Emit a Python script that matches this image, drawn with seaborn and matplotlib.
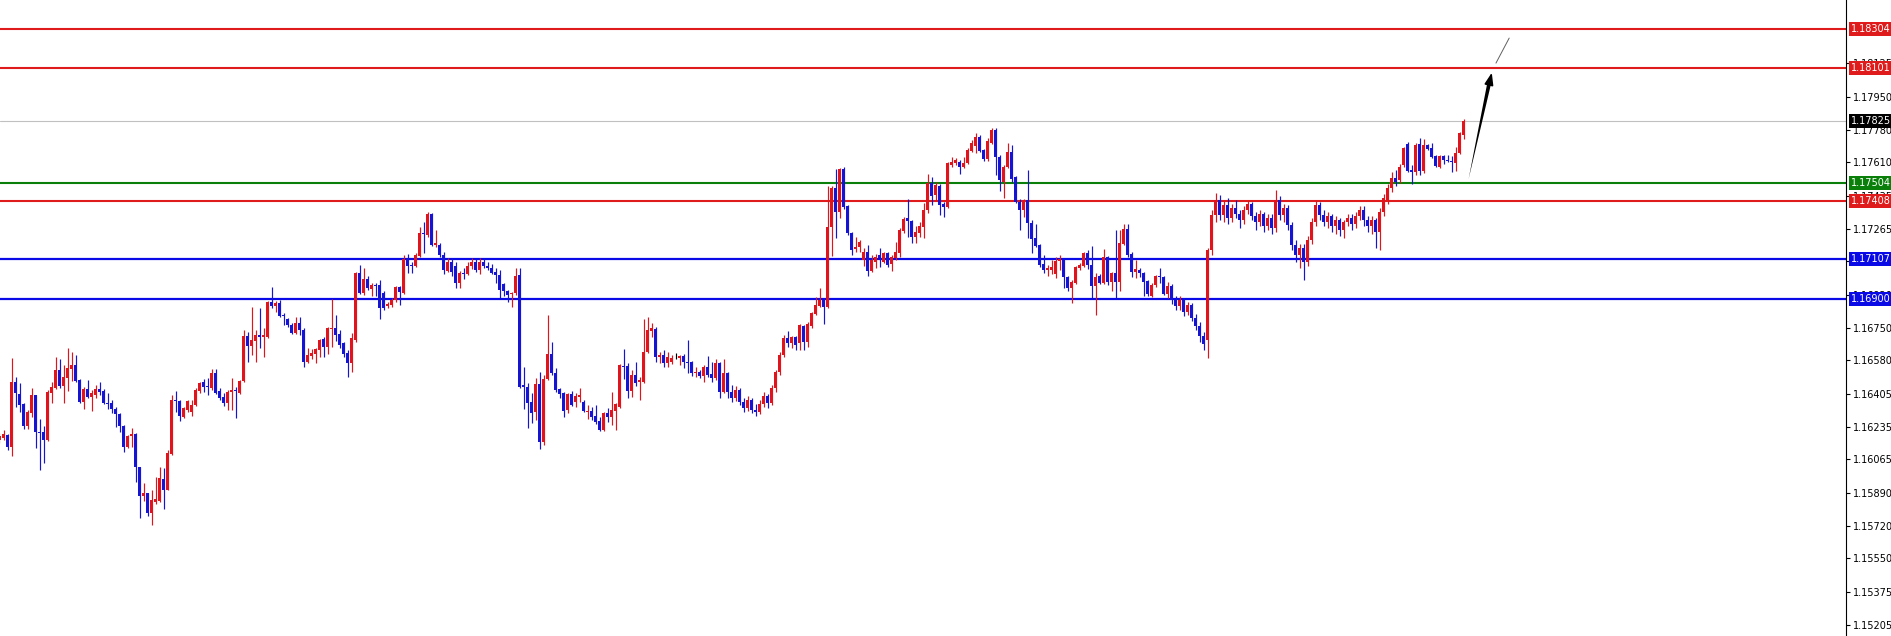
import matplotlib
matplotlib.use("Agg")
import matplotlib.pyplot as plt
import matplotlib.transforms as mtransforms
from matplotlib.patches import FancyArrowPatch
import numpy as np
import pandas as pd
import seaborn as sns

# ceny świec (H1)
open_prices = [
    1.16166, 1.16176, 1.16192, 1.16130, 1.16468, 1.16405, 1.16353, 1.16239, 1.16306, 1.16400,
    1.16208, 1.16208, 1.16166, 1.16410, 1.16436, 1.16530, 1.16447, 1.16488, 1.16535, 1.16556,
    1.16478, 1.16364, 1.16431, 1.16390, 1.16400, 1.16431, 1.16421, 1.16358, 1.16358, 1.16327,
    1.16301, 1.16239, 1.16130, 1.16187, 1.16197, 1.16026, 1.15875, 1.15890, 1.15786, 1.15844,
    1.15849, 1.15963, 1.15906, 1.16093, 1.16374, 1.16369, 1.16286, 1.16322, 1.16312, 1.16348,
    1.16421, 1.16468, 1.16447, 1.16436, 1.16514, 1.16421, 1.16390, 1.16358, 1.16416, 1.16426,
    1.16410, 1.16473, 1.16707, 1.16655, 1.16681, 1.16712, 1.16702, 1.16702, 1.16884, 1.16863,
    1.16878, 1.16816, 1.16795, 1.16764, 1.16722, 1.16774, 1.16738, 1.16572, 1.16603, 1.16613,
    1.16634, 1.16691, 1.16650, 1.16743, 1.16748, 1.16717, 1.16670, 1.16618, 1.16566, 1.16686,
    1.17034, 1.16930, 1.17003, 1.16951, 1.16972, 1.16972, 1.16930, 1.16863, 1.16868, 1.16894,
    1.16962, 1.16930, 1.17107, 1.17076, 1.17071, 1.17123, 1.17242, 1.17232, 1.17341, 1.17180,
    1.17180, 1.17128, 1.17045, 1.17092, 1.17071, 1.16982, 1.17034, 1.17029, 1.17071, 1.17092,
    1.17050, 1.17092, 1.17071, 1.17060, 1.17040, 1.17024, 1.16977, 1.16941, 1.16925, 1.16930,
    1.17024, 1.16452, 1.16442, 1.16364, 1.16312, 1.16457, 1.16156, 1.16483, 1.16613, 1.16514,
    1.16431, 1.16410, 1.16322, 1.16405, 1.16364, 1.16390, 1.16364, 1.16312, 1.16317, 1.16291,
    1.16265, 1.16218, 1.16306, 1.16286, 1.16317, 1.16338, 1.16551, 1.16551, 1.16421, 1.16504,
    1.16468, 1.16468, 1.16624, 1.16733, 1.16743, 1.16598, 1.16608, 1.16566, 1.16572, 1.16592,
    1.16592, 1.16603, 1.16572, 1.16572, 1.16514, 1.16520, 1.16499, 1.16546, 1.16509, 1.16488,
    1.16566, 1.16416, 1.16514, 1.16416, 1.16384, 1.16426, 1.16364, 1.16332, 1.16374, 1.16322,
    1.16312, 1.16353, 1.16395, 1.16358, 1.16436, 1.16520, 1.16608, 1.16696, 1.16670, 1.16702,
    1.16670, 1.16759, 1.16676, 1.16759, 1.16821, 1.16863, 1.16894, 1.16858, 1.17274, 1.17476,
    1.17352, 1.17575, 1.17383, 1.17242, 1.17159, 1.17170, 1.17102, 1.17144, 1.17045, 1.17092,
    1.17128, 1.17092, 1.17138, 1.17081, 1.17112, 1.17138, 1.17252, 1.17320, 1.17305, 1.17222,
    1.17242, 1.17274, 1.17362, 1.17502, 1.17440, 1.17487, 1.17393, 1.17378, 1.17596, 1.17606,
    1.17612, 1.17586, 1.17606, 1.17669, 1.17695, 1.17742, 1.17674, 1.17627, 1.17710, 1.17778,
    1.17638, 1.17508, 1.17586, 1.17664, 1.17534, 1.17404, 1.17362, 1.17414, 1.17294, 1.17216,
    1.17180, 1.17081, 1.17050, 1.17050, 1.17029, 1.17097, 1.17102, 1.17014, 1.16956, 1.16982,
    1.17060, 1.17071, 1.17138, 1.17076, 1.16967, 1.17019, 1.16982, 1.17118, 1.16988, 1.17034,
    1.16988, 1.17185, 1.17263, 1.17133, 1.17040, 1.17050, 1.17034, 1.16993, 1.16915, 1.16972,
    1.17019, 1.17014, 1.16925, 1.16967, 1.16894, 1.16863, 1.16894, 1.16832, 1.16868, 1.16800,
    1.16759, 1.16707, 1.16686, 1.17154, 1.17336, 1.17414, 1.17336, 1.17388, 1.17320, 1.17372,
    1.17341, 1.17310, 1.17362, 1.17393, 1.17331, 1.17300, 1.17341, 1.17279, 1.17320, 1.17268,
    1.17414, 1.17336, 1.17372, 1.17284, 1.17180, 1.17128, 1.17164, 1.17092, 1.17206, 1.17300,
    1.17388, 1.17336, 1.17300, 1.17331, 1.17279, 1.17310, 1.17258, 1.17300, 1.17320, 1.17289,
    1.17331, 1.17362, 1.17310, 1.17279, 1.17310, 1.17248, 1.17352, 1.17414, 1.17476, 1.17528,
    1.17518, 1.17596, 1.17705, 1.17570, 1.17560, 1.17705, 1.17565, 1.17700, 1.17684, 1.17643,
    1.17586, 1.17643, 1.17622, 1.17617, 1.17606, 1.17658, 1.17752,
]
high_prices = [
    1.16202, 1.16218, 1.16197, 1.16592, 1.16494, 1.16462, 1.16358, 1.16322, 1.16436, 1.16400,
    1.16275, 1.16239, 1.16426, 1.16468, 1.16598, 1.16587, 1.16556, 1.16644, 1.16624, 1.16608,
    1.16483, 1.16442, 1.16478, 1.16426, 1.16452, 1.16468, 1.16431, 1.16410, 1.16374, 1.16338,
    1.16306, 1.16244, 1.16192, 1.16228, 1.16202, 1.16026, 1.15942, 1.15890, 1.15906, 1.15974,
    1.16026, 1.16020, 1.16114, 1.16400, 1.16421, 1.16374, 1.16338, 1.16374, 1.16374, 1.16436,
    1.16468, 1.16483, 1.16488, 1.16535, 1.16535, 1.16436, 1.16410, 1.16426, 1.16488, 1.16442,
    1.16478, 1.16738, 1.16728, 1.16858, 1.16738, 1.16853, 1.16748, 1.16889, 1.16962, 1.16889,
    1.16894, 1.16826, 1.16800, 1.16774, 1.16806, 1.16806, 1.16748, 1.16644, 1.16639, 1.16644,
    1.16691, 1.16702, 1.16754, 1.16899, 1.16816, 1.16738, 1.16676, 1.16634, 1.16722, 1.17040,
    1.17076, 1.17060, 1.17019, 1.16982, 1.16982, 1.16998, 1.16941, 1.16884, 1.16904, 1.16967,
    1.16967, 1.17128, 1.17133, 1.17092, 1.17138, 1.17274, 1.17300, 1.17352, 1.17346, 1.17258,
    1.17190, 1.17144, 1.17112, 1.17112, 1.17092, 1.17045, 1.17060, 1.17092, 1.17112, 1.17107,
    1.17112, 1.17112, 1.17092, 1.17081, 1.17060, 1.17050, 1.16982, 1.16946, 1.16936, 1.17060,
    1.17060, 1.16546, 1.16462, 1.16410, 1.16488, 1.16520, 1.16504, 1.16816, 1.16676, 1.16540,
    1.16436, 1.16416, 1.16410, 1.16421, 1.16410, 1.16436, 1.16374, 1.16348, 1.16338, 1.16348,
    1.16286, 1.16312, 1.16332, 1.16416, 1.16358, 1.16561, 1.16639, 1.16566, 1.16530, 1.16572,
    1.16494, 1.16795, 1.16806, 1.16774, 1.16754, 1.16624, 1.16634, 1.16624, 1.16608, 1.16618,
    1.16608, 1.16613, 1.16686, 1.16577, 1.16546, 1.16530, 1.16556, 1.16603, 1.16572, 1.16587,
    1.16572, 1.16587, 1.16520, 1.16452, 1.16447, 1.16436, 1.16384, 1.16395, 1.16384, 1.16353,
    1.16374, 1.16416, 1.16405, 1.16452, 1.16530, 1.16624, 1.16712, 1.16733, 1.16707, 1.16707,
    1.16769, 1.16764, 1.16780, 1.16832, 1.16910, 1.16956, 1.16904, 1.17487, 1.17487, 1.17575,
    1.17580, 1.17586, 1.17388, 1.17248, 1.17222, 1.17206, 1.17164, 1.17180, 1.17128, 1.17133,
    1.17164, 1.17144, 1.17144, 1.17128, 1.17196, 1.17268, 1.17326, 1.17419, 1.17310, 1.17279,
    1.17300, 1.17398, 1.17549, 1.17534, 1.17508, 1.17497, 1.17404, 1.17612, 1.17638, 1.17632,
    1.17622, 1.17638, 1.17684, 1.17726, 1.17762, 1.17752, 1.17679, 1.17736, 1.17788, 1.17788,
    1.17648, 1.17596, 1.17710, 1.17700, 1.17539, 1.17419, 1.17419, 1.17570, 1.17310, 1.17289,
    1.17185, 1.17128, 1.17076, 1.17102, 1.17118, 1.17128, 1.17107, 1.17019, 1.16998, 1.17071,
    1.17086, 1.17144, 1.17154, 1.17175, 1.17034, 1.17029, 1.17159, 1.17123, 1.17040, 1.17258,
    1.17258, 1.17289, 1.17289, 1.17144, 1.17102, 1.17060, 1.17040, 1.16998, 1.16982, 1.17024,
    1.17060, 1.17019, 1.16988, 1.16977, 1.16915, 1.16915, 1.16904, 1.16884, 1.16878, 1.16821,
    1.16780, 1.16728, 1.17164, 1.17362, 1.17450, 1.17440, 1.17414, 1.17424, 1.17393, 1.17414,
    1.17362, 1.17383, 1.17414, 1.17404, 1.17352, 1.17362, 1.17352, 1.17341, 1.17341, 1.17466,
    1.17435, 1.17393, 1.17388, 1.17300, 1.17206, 1.17185, 1.17185, 1.17227, 1.17320, 1.17414,
    1.17404, 1.17362, 1.17352, 1.17341, 1.17331, 1.17320, 1.17310, 1.17341, 1.17341, 1.17352,
    1.17383, 1.17383, 1.17331, 1.17331, 1.17320, 1.17372, 1.17445, 1.17497, 1.17560, 1.17570,
    1.17601, 1.17690, 1.17716, 1.17596, 1.17710, 1.17736, 1.17731, 1.17705, 1.17710, 1.17648,
    1.17648, 1.17648, 1.17648, 1.17643, 1.17690, 1.17768, 1.17835,
]
low_prices = [
    1.16150, 1.16166, 1.16114, 1.16083, 1.16338, 1.16312, 1.16223, 1.16223, 1.16286, 1.16124,
    1.16010, 1.16046, 1.16161, 1.16358, 1.16431, 1.16436, 1.16358, 1.16421, 1.16473, 1.16468,
    1.16358, 1.16327, 1.16384, 1.16317, 1.16384, 1.16400, 1.16353, 1.16327, 1.16306, 1.16234,
    1.16208, 1.16104, 1.16124, 1.16130, 1.15948, 1.15760, 1.15849, 1.15771, 1.15724, 1.15833,
    1.15844, 1.15807, 1.15906, 1.16088, 1.16312, 1.16265, 1.16280, 1.16312, 1.16291, 1.16343,
    1.16410, 1.16416, 1.16400, 1.16426, 1.16405, 1.16374, 1.16343, 1.16322, 1.16322, 1.16280,
    1.16405, 1.16468, 1.16572, 1.16608, 1.16572, 1.16644, 1.16598, 1.16696, 1.16853, 1.16832,
    1.16806, 1.16764, 1.16754, 1.16717, 1.16717, 1.16712, 1.16546, 1.16566, 1.16587, 1.16566,
    1.16598, 1.16598, 1.16613, 1.16650, 1.16681, 1.16644, 1.16598, 1.16494, 1.16520, 1.16676,
    1.16925, 1.16920, 1.16946, 1.16915, 1.16915, 1.16795, 1.16842, 1.16853, 1.16858, 1.16884,
    1.16868, 1.16925, 1.17034, 1.17034, 1.17066, 1.17118, 1.17138, 1.17222, 1.17174, 1.17170,
    1.17118, 1.17029, 1.17040, 1.17019, 1.16956, 1.16956, 1.17003, 1.17024, 1.17055, 1.17040,
    1.17029, 1.17060, 1.17050, 1.17029, 1.16982, 1.16904, 1.16915, 1.16884, 1.16858, 1.16920,
    1.16436, 1.16327, 1.16228, 1.16254, 1.16270, 1.16119, 1.16140, 1.16478, 1.16504, 1.16416,
    1.16384, 1.16286, 1.16306, 1.16343, 1.16338, 1.16364, 1.16312, 1.16275, 1.16270, 1.16249,
    1.16213, 1.16213, 1.16260, 1.16244, 1.16218, 1.16332, 1.16483, 1.16384, 1.16390, 1.16447,
    1.16374, 1.16462, 1.16618, 1.16702, 1.16572, 1.16566, 1.16546, 1.16546, 1.16561, 1.16587,
    1.16556, 1.16540, 1.16514, 1.16499, 1.16494, 1.16488, 1.16468, 1.16494, 1.16468, 1.16478,
    1.16384, 1.16410, 1.16384, 1.16364, 1.16369, 1.16348, 1.16312, 1.16317, 1.16306, 1.16291,
    1.16301, 1.16338, 1.16332, 1.16348, 1.16416, 1.16504, 1.16598, 1.16650, 1.16644, 1.16634,
    1.16634, 1.16634, 1.16650, 1.16748, 1.16816, 1.16858, 1.16769, 1.16853, 1.17123, 1.17216,
    1.17321, 1.17367, 1.17232, 1.17128, 1.17144, 1.17144, 1.17071, 1.17019, 1.17040, 1.17060,
    1.17066, 1.17086, 1.17066, 1.17045, 1.17102, 1.17118, 1.17242, 1.17222, 1.17190, 1.17190,
    1.17222, 1.17216, 1.17346, 1.17388, 1.17414, 1.17336, 1.17326, 1.17372, 1.17586, 1.17596,
    1.17549, 1.17580, 1.17601, 1.17664, 1.17658, 1.17664, 1.17617, 1.17617, 1.17705, 1.17544,
    1.17461, 1.17424, 1.17580, 1.17508, 1.17398, 1.17258, 1.17326, 1.17216, 1.17138, 1.17170,
    1.17066, 1.17034, 1.17019, 1.17029, 1.17008, 1.17050, 1.16956, 1.16941, 1.16878, 1.16977,
    1.17050, 1.17066, 1.17055, 1.16904, 1.16816, 1.16977, 1.16977, 1.16972, 1.16941, 1.16904,
    1.16941, 1.17180, 1.17118, 1.17014, 1.17008, 1.17014, 1.16915, 1.16915, 1.16910, 1.16962,
    1.16982, 1.16920, 1.16904, 1.16873, 1.16842, 1.16842, 1.16811, 1.16816, 1.16785, 1.16738,
    1.16676, 1.16634, 1.16592, 1.17128, 1.17300, 1.17310, 1.17300, 1.17289, 1.17300, 1.17320,
    1.17268, 1.17289, 1.17341, 1.17310, 1.17258, 1.17279, 1.17248, 1.17258, 1.17237, 1.17248,
    1.17310, 1.17300, 1.17258, 1.17154, 1.17092, 1.17060, 1.16998, 1.17071, 1.17185, 1.17279,
    1.17310, 1.17279, 1.17268, 1.17248, 1.17237, 1.17227, 1.17216, 1.17279, 1.17258, 1.17268,
    1.17310, 1.17279, 1.17248, 1.17237, 1.17164, 1.17154, 1.17331, 1.17393, 1.17456, 1.17487,
    1.17502, 1.17586, 1.17560, 1.17497, 1.17544, 1.17544, 1.17554, 1.17674, 1.17632, 1.17586,
    1.17580, 1.17601, 1.17612, 1.17560, 1.17565, 1.17653, 1.17731,
]
close_prices = [
    1.16187, 1.16197, 1.16130, 1.16468, 1.16410, 1.16348, 1.16239, 1.16312, 1.16400, 1.16208,
    1.16202, 1.16166, 1.16416, 1.16442, 1.16530, 1.16447, 1.16494, 1.16540, 1.16556, 1.16473,
    1.16364, 1.16431, 1.16390, 1.16410, 1.16431, 1.16416, 1.16358, 1.16353, 1.16327, 1.16301,
    1.16239, 1.16130, 1.16187, 1.16197, 1.16026, 1.15875, 1.15890, 1.15786, 1.15854, 1.15859,
    1.15968, 1.15906, 1.16098, 1.16374, 1.16369, 1.16291, 1.16332, 1.16369, 1.16348, 1.16426,
    1.16462, 1.16442, 1.16442, 1.16514, 1.16410, 1.16384, 1.16358, 1.16416, 1.16426, 1.16421,
    1.16473, 1.16707, 1.16655, 1.16686, 1.16712, 1.16702, 1.16712, 1.16884, 1.16863, 1.16878,
    1.16811, 1.16811, 1.16764, 1.16722, 1.16774, 1.16738, 1.16572, 1.16608, 1.16618, 1.16639,
    1.16686, 1.16650, 1.16748, 1.16748, 1.16712, 1.16660, 1.16613, 1.16566, 1.16696, 1.17034,
    1.16930, 1.17003, 1.16956, 1.16972, 1.16967, 1.16853, 1.16853, 1.16873, 1.16894, 1.16962,
    1.16936, 1.17107, 1.17071, 1.17071, 1.17128, 1.17242, 1.17237, 1.17341, 1.17180, 1.17190,
    1.17128, 1.17050, 1.17092, 1.17040, 1.16982, 1.17034, 1.17029, 1.17071, 1.17092, 1.17050,
    1.17092, 1.17071, 1.17060, 1.17034, 1.17024, 1.16946, 1.16941, 1.16920, 1.16930, 1.17019,
    1.16442, 1.16442, 1.16358, 1.16306, 1.16457, 1.16156, 1.16483, 1.16613, 1.16514, 1.16426,
    1.16405, 1.16317, 1.16405, 1.16348, 1.16395, 1.16400, 1.16317, 1.16317, 1.16286, 1.16260,
    1.16218, 1.16306, 1.16286, 1.16322, 1.16353, 1.16556, 1.16546, 1.16421, 1.16504, 1.16462,
    1.16478, 1.16624, 1.16738, 1.16748, 1.16598, 1.16608, 1.16566, 1.16598, 1.16592, 1.16592,
    1.16603, 1.16572, 1.16566, 1.16514, 1.16520, 1.16499, 1.16546, 1.16504, 1.16488, 1.16566,
    1.16416, 1.16514, 1.16416, 1.16384, 1.16426, 1.16364, 1.16332, 1.16374, 1.16322, 1.16312,
    1.16353, 1.16395, 1.16358, 1.16436, 1.16520, 1.16608, 1.16696, 1.16670, 1.16702, 1.16660,
    1.16764, 1.16676, 1.16769, 1.16826, 1.16868, 1.16894, 1.16858, 1.17274, 1.17476, 1.17352,
    1.17575, 1.17378, 1.17242, 1.17154, 1.17170, 1.17196, 1.17144, 1.17045, 1.17102, 1.17118,
    1.17112, 1.17138, 1.17076, 1.17118, 1.17144, 1.17258, 1.17315, 1.17305, 1.17222, 1.17248,
    1.17279, 1.17362, 1.17502, 1.17435, 1.17492, 1.17388, 1.17378, 1.17606, 1.17612, 1.17622,
    1.17586, 1.17606, 1.17674, 1.17710, 1.17742, 1.17669, 1.17627, 1.17721, 1.17778, 1.17638,
    1.17518, 1.17586, 1.17664, 1.17523, 1.17404, 1.17362, 1.17414, 1.17294, 1.17211, 1.17175,
    1.17076, 1.17050, 1.17060, 1.17066, 1.17097, 1.17107, 1.17014, 1.16956, 1.16988, 1.17066,
    1.17076, 1.17138, 1.17076, 1.16967, 1.17014, 1.16982, 1.17118, 1.16988, 1.17034, 1.16988,
    1.17190, 1.17263, 1.17128, 1.17040, 1.17055, 1.17034, 1.16988, 1.16925, 1.16972, 1.17019,
    1.17014, 1.16925, 1.16967, 1.16894, 1.16863, 1.16894, 1.16832, 1.16868, 1.16800, 1.16759,
    1.16707, 1.16665, 1.17154, 1.17336, 1.17414, 1.17336, 1.17388, 1.17320, 1.17372, 1.17341,
    1.17310, 1.17362, 1.17393, 1.17331, 1.17300, 1.17341, 1.17279, 1.17320, 1.17268, 1.17414,
    1.17336, 1.17372, 1.17284, 1.17180, 1.17128, 1.17164, 1.17092, 1.17206, 1.17300, 1.17388,
    1.17336, 1.17300, 1.17331, 1.17279, 1.17310, 1.17258, 1.17300, 1.17320, 1.17289, 1.17331,
    1.17362, 1.17310, 1.17279, 1.17310, 1.17248, 1.17352, 1.17424, 1.17476, 1.17528, 1.17508,
    1.17586, 1.17684, 1.17565, 1.17560, 1.17700, 1.17565, 1.17700, 1.17679, 1.17638, 1.17591,
    1.17643, 1.17622, 1.17617, 1.17612, 1.17658, 1.17762, 1.17825,
]

# poziomy wsparcia / oporu
red_levels = [1.18304, 1.18101, 1.17408]
green_levels = [1.17504]
blue_levels = [1.17107, 1.16900]
last_price = 1.17825

# etykiety osi cen
tick_values = [1.18125, 1.17950, 1.17780, 1.17610, 1.17435, 1.17265, 1.17095, 1.16920,
               1.16750, 1.16580, 1.16405, 1.16235, 1.16065, 1.15890, 1.15720, 1.15550,
               1.15375, 1.15205]
top_tick = 1.18470

BULL = '#e0141c'
BEAR = '#1414d2'
RED_LINE = '#e01b1b'
BLUE_LINE = '#0a0ae6'
GREEN_LINE = '#0a800a'

df = pd.DataFrame({'open': open_prices, 'high': high_prices,
                   'low': low_prices, 'close': close_prices})
df['x'] = np.arange(len(df))
df['color'] = np.where(df['close'] > df['open'], BULL,
                       np.where(df['close'] < df['open'], BEAR, 'black'))

sns.set_theme(style="white")
plt.rcParams['font.family'] = ['DejaVu Sans']

fig = plt.figure(figsize=(18.91, 6.36), dpi=100)
ax = fig.add_axes([0, 0, 1846 / 1891, 1])
ax.set_facecolor('white')

# linie poziomów
ax.axhline(last_price, color='#c0c0c0', lw=0.8, zorder=1)
for lv in red_levels:
    ax.axhline(lv, color=RED_LINE, lw=1.5, zorder=1)
for lv in green_levels:
    ax.axhline(lv, color=GREEN_LINE, lw=1.5, zorder=1)
for lv in blue_levels:
    ax.axhline(lv, color=BLUE_LINE, lw=1.6, zorder=1)

# świece
ax.vlines(df['x'], df['low'], df['high'], colors=df['color'], lw=0.85, zorder=2)
body_low = df[['open', 'close']].min(axis=1)
body_h = (df['close'] - df['open']).abs().clip(lower=0.00003)
ax.bar(df['x'], body_h, bottom=body_low, width=0.8, color=df['color'],
       linewidth=0, zorder=3)

# strzałka prognozy (zwężający się trzon + grot)
shaft = FancyArrowPatch(posA=(372.6, 1.18040), posB=(367.1, 1.17508),
                        arrowstyle='wedge,tail_width=0.28,shrink_factor=0.5',
                        mutation_scale=10, color='black', lw=0, zorder=4)
ax.add_patch(shaft)
ax.annotate('', xy=(373.05, 1.18076), xytext=(372.3, 1.18010),
            arrowprops=dict(arrowstyle='-|>,head_length=0.6,head_width=0.22',
                            color='black', lw=1.2, shrinkA=0, shrinkB=0),
            zorder=4)
ax.plot([374.1, 377.4], [1.18126, 1.18256], color='#606060', lw=0.7, zorder=4)

# osie
ax.set_xlim(0.125, 461.6)
ax.yaxis.tick_right()
ax.set_yticks(tick_values)
ax.set_yticklabels([f"{v:.5f}" for v in tick_values])
ax.set_ylim(1.15147, 1.18454)
ax.tick_params(axis='y', direction='out', length=3, width=0.8, pad=2,
               labelsize=7, colors='black', right=True, left=False)
ax.tick_params(axis='x', bottom=False, labelbottom=False)
for side in ['top', 'left', 'bottom']:
    ax.spines[side].set_visible(False)
ax.spines['right'].set_color('black')
ax.spines['right'].set_linewidth(0.8)
ax.grid(False)

trans = mtransforms.blended_transform_factory(ax.transAxes, ax.transData)
xlab = 1 + 5 / 1846
ax.text(xlab, top_tick, f"{top_tick:.5f}", transform=trans, ha='left', va='center',
        fontsize=7, color='black', clip_on=False)

labels = ([(v, RED_LINE) for v in red_levels] + [(v, GREEN_LINE) for v in green_levels]
          + [(v, BLUE_LINE) for v in blue_levels] + [(last_price, 'black')])
for v, col in labels:
    ax.text(xlab, v, f"{v:.5f}", transform=trans, ha='left', va='center',
            fontsize=7, color='white', clip_on=False, zorder=6,
            bbox=dict(boxstyle='square,pad=0.22', fc=col, ec='none'))

fig.savefig('out.png', dpi=100)
